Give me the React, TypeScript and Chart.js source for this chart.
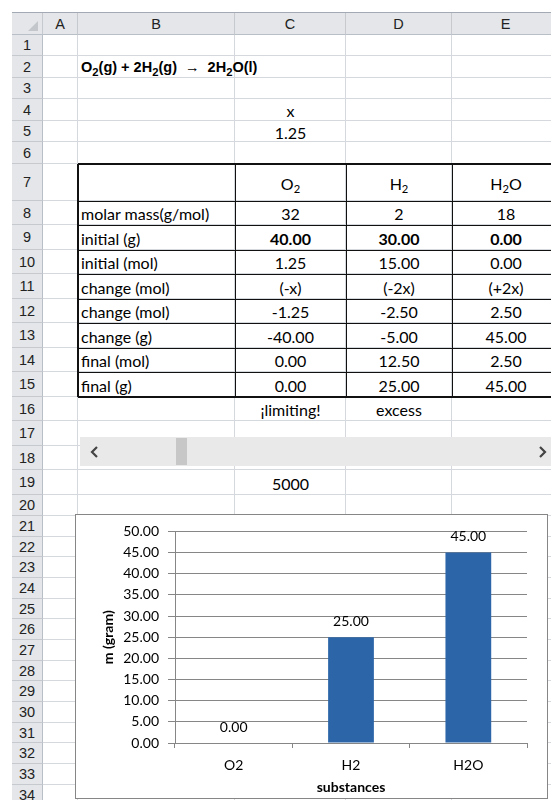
import React, { useEffect, useRef } from 'react';
import { Chart, registerables } from 'chart.js';

Chart.register(...registerables);

// ---------- chart data ----------
const categories = ['O2', 'H2', 'H2O'];
const finalGrams = [0, 25, 45];
const yMin = 0;
const yMax = 50;
const yStep = 5;
const xTitle = 'substances';
const yTitle = 'm (gram)';

// ---------- sheet data ----------
const colLetters = ['A', 'B', 'C', 'D', 'E'];
const tableRowLabels = ['molar mass(g/mol)', 'initial (g)', 'initial (mol)', 'change (mol)', 'change (mol)', 'change (g)', 'final (mol)', 'final (g)'];
const o2Values = ['32', '40.00', '1.25', '(-x)', '-1.25', '-40.00', '0.00', '0.00'];
const h2Values = ['2', '30.00', '15.00', '(-2x)', '-2.50', '-5.00', '12.50', '25.00'];
const h2oValues = ['18', '0.00', '0.00', '(+2x)', '2.50', '45.00', '2.50', '45.00'];
const statusLabels = ['¡limiting!', 'excess'];
const xCellValue = '1.25';
const sliderCellValue = '5000';

// ---------- layout ----------
const LEFT = 12;
const COL_EDGES = [43, 78, 235, 346, 452, 560];
const HEADER_Y0 = 12;
const HEADER_Y1 = 35;
const ROW_HEIGHTS = [21, 22, 21, 22, 21, 22, 37, 24, 25, 24, 25, 24, 25, 24, 25, 24, 25, 24, 25, 21, 21, 20, 21, 21, 20, 21, 21, 20, 21, 21, 20, 21, 21, 20];
const ROW_TOPS: number[] = [];
{
  let y = HEADER_Y1;
  for (let i = 0; i < ROW_HEIGHTS.length; i++) {
    ROW_TOPS.push(y);
    y += ROW_HEIGHTS[i];
  }
}
const rowTop = (r: number) => ROW_TOPS[r - 1];
const rowBottom = (r: number) => ROW_TOPS[r - 1] + ROW_HEIGHTS[r - 1];

const CELL_FONT = 'Lato, "Noto Sans", sans-serif';
const HEAD_FONT = '"Liberation Sans", Arial, sans-serif';
const GRID = '#d5d8dc';
const HEAD_BG = '#e4e6e9';
const HEAD_LINE = '#c6cace';
const AXIS_GRAY = '#868686';
const BAR_BLUE = '#2c66a9';

const Sub = ({ children, size = '0.7em' }: { children: React.ReactNode; size?: string }) => (
  <span style={{ fontSize: size, position: 'relative', top: '0.32em' }}>{children}</span>
);

type CellProps = { col: number; row: number; align?: 'left' | 'center'; bold?: boolean; children?: React.ReactNode };
const Cell = ({ col, row, align = 'center', bold = false, children }: CellProps) => {
  const left = COL_EDGES[col];
  const width = COL_EDGES[col + 1] - COL_EDGES[col];
  const top = rowTop(row);
  const height = ROW_HEIGHTS[row - 1];
  return (
    <div
      style={{
        position: 'absolute', left, top, width, height,
        display: 'flex', alignItems: 'center',
        justifyContent: align === 'left' ? 'flex-start' : 'center',
        paddingLeft: align === 'left' ? 3 : 0, paddingTop: 1,
        boxSizing: 'border-box', whiteSpace: 'nowrap',
        fontFamily: CELL_FONT, fontSize: 16, fontWeight: bold ? 700 : 400, color: '#000',
      }}
    >
      {children}
    </div>
  );
};

const Line = ({ x, y, w, h, color }: { x: number; y: number; w: number; h: number; color: string }) => (
  <div style={{ position: 'absolute', left: x, top: y, width: w, height: h, background: color }} />
);

const BarChart = () => {
  const ref = useRef<HTMLCanvasElement | null>(null);
  useEffect(() => {
    let chart: Chart | null = null;
    let cancelled = false;
    const make = () => {
      if (cancelled || !ref.current) return;
      const frame = {
        id: 'frame',
        beforeDraw(c: any) {
          const { ctx, width, height } = c;
          ctx.save();
          ctx.fillStyle = '#ffffff';
          ctx.fillRect(0, 0, width, height);
          ctx.strokeStyle = AXIS_GRAY;
          ctx.lineWidth = 1;
          ctx.strokeRect(0.5, 0.5, width - 1, height - 1);
          ctx.restore();
        },
      };
      const valueLabels = {
        id: 'valueLabels',
        afterDatasetsDraw(c: any) {
          const ctx = c.ctx;
          const meta = c.getDatasetMeta(0);
          ctx.save();
          ctx.font = '14px ' + CELL_FONT;
          ctx.fillStyle = '#000';
          ctx.textAlign = 'center';
          ctx.textBaseline = 'middle';
          meta.data.forEach((el: any, i: number) => {
            const v = c.data.datasets[0].data[i] as number;
            ctx.fillText(v.toFixed(2), el.x, el.y - 16);
          });
          ctx.restore();
        },
      };
      chart = new Chart(ref.current, {
        type: 'bar',
        data: {
          labels: categories,
          datasets: [{ data: finalGrams, backgroundColor: BAR_BLUE, borderWidth: 0, barPercentage: 0.39, categoryPercentage: 1 }],
        },
        options: {
          animation: false,
          responsive: false,
          devicePixelRatio: 1,
          layout: { padding: { left: 0, top: 16, right: 21, bottom: 0 } },
          plugins: { legend: { display: false }, tooltip: { enabled: false }, title: { display: false } },
          scales: {
            x: {
              grid: { display: true, drawOnChartArea: false, drawTicks: true, offset: true, tickLength: 5, color: AXIS_GRAY },
              border: { display: true, color: AXIS_GRAY },
              ticks: { color: '#000', font: { family: CELL_FONT, size: 14 }, padding: 9, maxRotation: 0 },
              title: { display: true, text: xTitle, color: '#000', font: { family: CELL_FONT, size: 14, weight: 'bold' }, padding: { top: 0, bottom: 3 } },
              afterFit: (s: any) => { s.height = 56; },
            },
            y: {
              min: yMin,
              max: yMax,
              ticks: { stepSize: yStep, color: '#000', font: { family: CELL_FONT, size: 14 }, padding: 9, callback: (v: any) => Number(v).toFixed(2) },
              grid: { color: AXIS_GRAY, tickLength: 7, drawTicks: true },
              border: { display: true, color: AXIS_GRAY },
              title: { display: true, text: yTitle, color: '#000', font: { family: CELL_FONT, size: 14, weight: 'bold' }, padding: { top: 25, bottom: 0 } },
              afterFit: (s: any) => { s.width = 100; },
            },
          },
        },
        plugins: [frame, valueLabels],
      } as any);
    };
    const fonts = (document as any).fonts;
    if (fonts && fonts.load) {
      Promise.all([fonts.load('14px Lato'), fonts.load('bold 14px Lato')]).then(make, make);
    } else {
      make();
    }
    return () => {
      cancelled = true;
      if (chart) chart.destroy();
    };
  }, []);
  return (
    <canvas ref={ref} width={473} height={285} style={{ position: 'absolute', left: 75, top: 514, width: 473, height: 285 }} />
  );
};

export default function App() {
  const gridCells: React.ReactNode[] = [];
  for (let r = 1; r <= ROW_HEIGHTS.length; r++) {
    for (let c = 0; c < colLetters.length; c++) {
      gridCells.push(
        <div
          key={`g${r}-${c}`}
          style={{
            position: 'absolute', left: COL_EDGES[c], top: rowTop(r),
            width: COL_EDGES[c + 1] - COL_EDGES[c], height: ROW_HEIGHTS[r - 1],
            boxSizing: 'border-box', borderRight: `1px solid ${GRID}`, borderBottom: `1px solid ${GRID}`,
          }}
        />
      );
    }
  }
  const rowHeads = ROW_HEIGHTS.map((h, i) => (
    <div
      key={`rh${i}`}
      style={{
        position: 'absolute', left: LEFT, top: ROW_TOPS[i], width: COL_EDGES[0] - LEFT, height: h,
        boxSizing: 'border-box', background: HEAD_BG, borderBottom: `1px solid ${HEAD_LINE}`, borderRight: '1px solid #b9bfc6',
        display: 'flex', alignItems: 'center', justifyContent: 'center',
        fontFamily: HEAD_FONT, fontSize: 14.5, color: '#222',
      }}
    >
      {i + 1}
    </div>
  ));
  const colHeads = colLetters.map((L, c) => (
    <div
      key={`ch${c}`}
      style={{
        position: 'absolute', left: COL_EDGES[c], top: HEADER_Y0 + 1, width: COL_EDGES[c + 1] - COL_EDGES[c], height: HEADER_Y1 - HEADER_Y0 - 1,
        boxSizing: 'border-box', background: HEAD_BG, borderRight: `1px solid ${HEAD_LINE}`, borderBottom: '1px solid #b9bfc6',
        display: 'flex', alignItems: 'center', justifyContent: 'center',
        fontFamily: HEAD_FONT, fontSize: 14.5, color: '#222',
      }}
    >
      {L}
    </div>
  ));

  // table borders
  const tblLeft = COL_EDGES[1];
  const tblRight = 560;
  const tblTop = rowTop(7);
  const tblBottom = rowBottom(15);
  const borders: React.ReactNode[] = [];
  for (let r = 7; r <= 16; r++) {
    borders.push(<Line key={`tb${r}`} x={tblLeft} y={rowTop(r) - (r === 7 || r === 16 ? 1 : 0)} w={tblRight - tblLeft} h={r === 7 || r === 16 ? 2 : 1} color="#111" />);
  }
  [1, 2, 3, 4].forEach((c) => {
    borders.push(<Line key={`tv${c}`} x={COL_EDGES[c] - (c === 1 ? 1 : 0)} y={tblTop} w={c === 1 ? 2 : 1} h={tblBottom - tblTop} color="#111" />);
  });

  return (
    <div style={{ position: 'absolute', left: 0, top: 0, width: 551, height: 800, overflow: 'hidden', background: '#fff' }}>
      {/* top frame line */}
      <Line x={LEFT} y={HEADER_Y0} w={551 - LEFT} h={1} color="#a3aab4" />
      {/* corner */}
      <div style={{ position: 'absolute', left: LEFT, top: HEADER_Y0 + 1, width: COL_EDGES[0] - LEFT, height: HEADER_Y1 - HEADER_Y0 - 1, boxSizing: 'border-box', background: HEAD_BG, borderRight: `1px solid ${HEAD_LINE}`, borderBottom: '1px solid #b9bfc6' }}>
        <svg width="31" height="22" style={{ position: 'absolute', left: 0, top: 0 }}>
          <polygon points="26,8 26,18 16,18" fill="#c3c7cc" />
        </svg>
      </div>
      {colHeads}
      {rowHeads}
      {gridCells}

      {/* row 2 equation */}
      <div style={{ position: 'absolute', left: COL_EDGES[1] + 3, top: rowTop(2), height: ROW_HEIGHTS[1], display: 'flex', alignItems: 'center', whiteSpace: 'pre', fontFamily: HEAD_FONT, fontWeight: 700, fontSize: 14.5, color: '#000' }}>
        <span>O<Sub size="0.78em">2</Sub>(g) + 2H<Sub size="0.78em">2</Sub>(g)  <span style={{ fontWeight: 400 }}>→</span>  2H<Sub size="0.78em">2</Sub>O(l)</span>
      </div>

      <Cell col={2} row={4}>x</Cell>
      <Cell col={2} row={5}>{xCellValue}</Cell>

      <Cell col={2} row={7}><span>O<Sub>2</Sub></span></Cell>
      <Cell col={3} row={7}><span>H<Sub>2</Sub></span></Cell>
      <Cell col={4} row={7}><span>H<Sub>2</Sub>O</span></Cell>

      {tableRowLabels.map((lab, i) => (
        <React.Fragment key={`tr${i}`}>
          <Cell col={1} row={8 + i} align="left">{lab}</Cell>
          <Cell col={2} row={8 + i} bold={i === 1}>{o2Values[i]}</Cell>
          <Cell col={3} row={8 + i} bold={i === 1}>{h2Values[i]}</Cell>
          <Cell col={4} row={8 + i} bold={i === 1}>{h2oValues[i]}</Cell>
        </React.Fragment>
      ))}
      {borders}

      <Cell col={2} row={16}>{statusLabels[0]}</Cell>
      <Cell col={3} row={16}>{statusLabels[1]}</Cell>

      {/* scroll bar control */}
      <div style={{ position: 'absolute', left: 80, top: 437, width: 480, height: 29, background: '#e9e9e9' }}>
        <div style={{ position: 'absolute', left: 96, top: 1, width: 11, height: 27, background: '#c7c7c7' }} />
        <svg width="12" height="14" style={{ position: 'absolute', left: 9, top: 8 }}>
          <polyline points="8,2 3,7 8,12" fill="none" stroke="#444" strokeWidth="2.2" />
        </svg>
        <svg width="12" height="14" style={{ position: 'absolute', left: 457, top: 8 }}>
          <polyline points="3,2 8,7 3,12" fill="none" stroke="#444" strokeWidth="2.2" />
        </svg>
      </div>

      <Cell col={2} row={19}>{sliderCellValue}</Cell>

      <BarChart />
    </div>
  );
}
